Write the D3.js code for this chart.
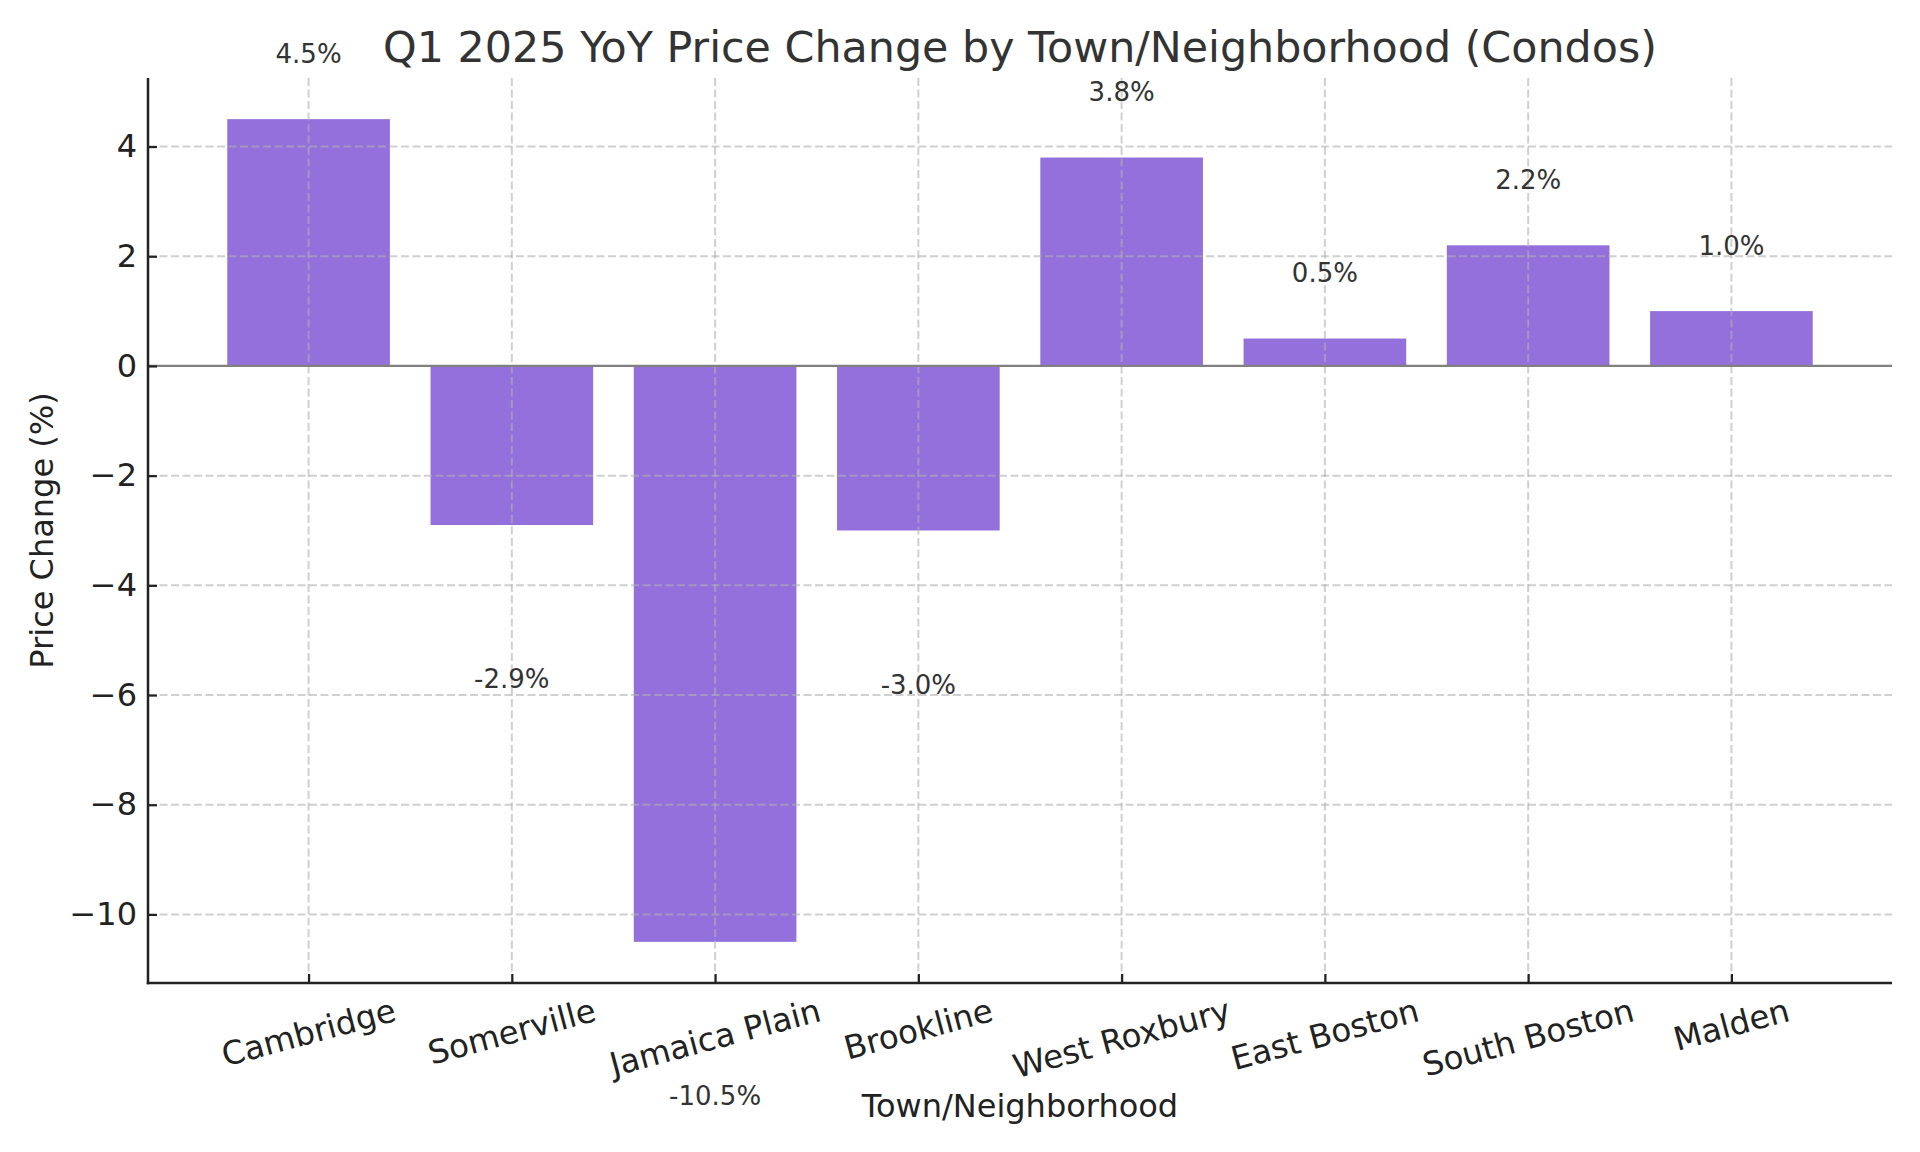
<!DOCTYPE html>
<html lang="en">
<head>
<meta charset="utf-8">
<title>Q1 2025 YoY Price Change by Town/Neighborhood (Condos)</title>
<script src="https://d3js.org/d3.v7.min.js"></script>
<style>
  body { margin: 0; background: #fff; }
  svg text { font-family: "DejaVu Sans", sans-serif; }
</style>
</head>
<body>
<script>
// data
const towns = ["Cambridge", "Somerville", "Jamaica Plain", "Brookline",
               "West Roxbury", "East Boston", "South Boston", "Malden"];
const changes = [4.5, -2.9, -10.5, -3.0, 3.8, 0.5, 2.2, 1.0];
const yTicks = [-10, -8, -6, -4, -2, 0, 2, 4];

const W = 1920, H = 1152;
const plotL = 148, plotR = 1892, plotT = 78, plotB = 983;

const svg = d3.select("body").append("svg")
  .attr("width", W).attr("height", H);

// matplotlib style limits: bars of width 0.8, 5% margins
const barW = 0.8;
const xMin = -barW / 2, xMax = towns.length - 1 + barW / 2;
const xPad = (xMax - xMin) * 0.05;
const x = d3.scaleLinear().domain([xMin - xPad, xMax + xPad]).range([plotL, plotR]);

const yLo = d3.min(changes), yHi = d3.max(changes);
const yPad = (yHi - yLo) * 0.05;
const y = d3.scaleLinear().domain([yLo - yPad, yHi + yPad]).range([plotB, plotT]);

// bars
svg.append("g").selectAll("rect")
  .data(changes)
  .enter().append("rect")
  .attr("x", (d, i) => x(i - barW / 2))
  .attr("width", x(barW) - x(0))
  .attr("y", d => y(Math.max(d, 0)))
  .attr("height", d => Math.abs(y(d) - y(0)))
  .attr("fill", "#9370DB");

// grid (drawn over bars, as in the original)
const grid = svg.append("g")
  .attr("stroke", "#b0b0b0").attr("stroke-opacity", 0.6)
  .attr("stroke-width", 2).attr("stroke-dasharray", "8,3.5");
grid.selectAll("line.h").data(yTicks).enter().append("line")
  .attr("class", "h")
  .attr("x1", plotL).attr("x2", plotR)
  .attr("y1", d => y(d)).attr("y2", d => y(d));
grid.selectAll("line.v").data(d3.range(towns.length)).enter().append("line")
  .attr("class", "v")
  .attr("y1", plotT).attr("y2", plotB)
  .attr("x1", d => x(d)).attr("x2", d => x(d));

// zero line
svg.append("line")
  .attr("x1", plotL).attr("x2", plotR)
  .attr("y1", y(0)).attr("y2", y(0))
  .attr("stroke", "#808080").attr("stroke-width", 2.2);

// y axis
const yAxis = svg.append("g")
  .attr("transform", `translate(${plotL},0)`)
  .call(d3.axisLeft(y).tickValues(yTicks)
    .tickSizeInner(-9).tickSizeOuter(0).tickPadding(11)
    .tickFormat(d => d < 0 ? "\u2212" + Math.abs(d) : d));
yAxis.select(".domain").remove();
yAxis.selectAll(".tick line").attr("stroke", "#222").attr("stroke-width", 2.2);
yAxis.selectAll(".tick text")
  .attr("font-size", 32).attr("fill", "#222")
  .attr("font-family", "DejaVu Sans");

// x axis
const xAxis = svg.append("g")
  .attr("transform", `translate(0,${plotB})`)
  .call(d3.axisBottom(x).tickValues(d3.range(towns.length))
    .tickSizeInner(-9).tickSizeOuter(0).tickFormat(""));
xAxis.select(".domain").remove();
xAxis.selectAll(".tick line").attr("stroke", "#222").attr("stroke-width", 2.2);

// spines
svg.append("line").attr("x1", plotL).attr("x2", plotL).attr("y1", plotT).attr("y2", plotB + 1.25)
  .attr("stroke", "#222").attr("stroke-width", 2.5);
svg.append("line").attr("x1", plotL - 1.25).attr("x2", plotR).attr("y1", plotB).attr("y2", plotB)
  .attr("stroke", "#222").attr("stroke-width", 2.5);

// rotated category labels (bbox centred on tick, top under the axis)
const rot = 15 * Math.PI / 180;
const labelTop = plotB + 8;
const fs = 32.5;
svg.append("g").selectAll("text")
  .data(towns)
  .enter().append("text")
  .attr("font-size", fs).attr("fill", "#222")
  .attr("text-anchor", "middle")
  .text(d => d)
  .each(function(d, i) {
    const w = this.getComputedTextLength();
    const h = fs * 1.17;
    const halfH = (w * Math.sin(rot) + h * Math.cos(rot)) / 2;
    const cx = x(i), cy = labelTop + halfH;
    d3.select(this)
      .attr("x", 0).attr("y", 0).attr("dy", "0.35em")
      .attr("transform", `translate(${cx},${cy}) rotate(-15)`);
  });

// value labels
svg.append("g").selectAll("text")
  .data(changes)
  .enter().append("text")
  .attr("x", (d, i) => x(i))
  .attr("y", d => y(d > 0 ? d + 1 : d - 3) - 1.5)
  .attr("text-anchor", "middle")
  .attr("font-size", 26).attr("fill", "#333")
  .text(d => d.toFixed(1) + "%");

// title and axis labels
svg.append("text")
  .attr("x", (plotL + plotR) / 2).attr("y", 62)
  .attr("text-anchor", "middle")
  .attr("font-size", 42.8).attr("fill", "#333")
  .text("Q1 2025 YoY Price Change by Town/Neighborhood (Condos)");

svg.append("text")
  .attr("x", (plotL + plotR) / 2).attr("y", 1117)
  .attr("text-anchor", "middle")
  .attr("font-size", 32).attr("fill", "#222")
  .text("Town/Neighborhood");

svg.append("text")
  .attr("transform", `translate(53,${(plotT + plotB) / 2}) rotate(-90)`)
  .attr("text-anchor", "middle")
  .attr("font-size", 32).attr("fill", "#222")
  .text("Price Change (%)");
</script>
</body>
</html>
